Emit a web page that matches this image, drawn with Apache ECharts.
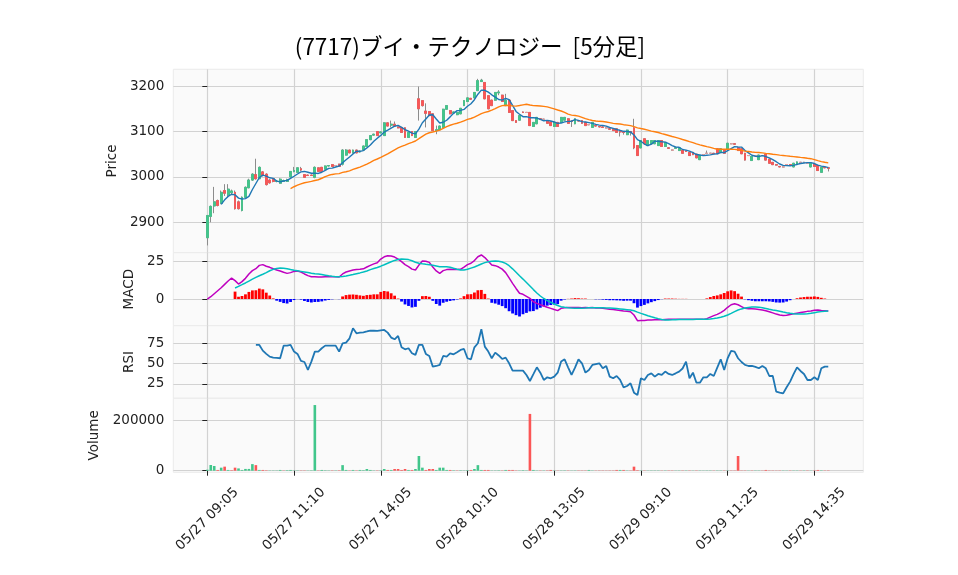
<!DOCTYPE html>
<html>
<head>
<meta charset="utf-8">
<script src="https://cdn.jsdelivr.net/npm/echarts@6/dist/echarts.min.js"></script>
<style>
html,body{margin:0;padding:0;background:#ffffff;}
#chart{width:958px;height:575px;}
</style>
</head>
<body>
<div id="chart"></div>
<script>
// ---- data (5-minute bars, index 0..179) ----
const xTickIndex = [0,25,50,75,100,125,150,175];
const xTickLabels = ['05/27 09:05','05/27 11:10','05/27 14:05','05/28 10:10','05/28 13:05','05/29 09:10','05/29 11:25','05/29 14:35'];

const opens = [2866,2913,2936,2948,2942,2970,2960,2965,2966,2945,
 2926,2955,2976,2993,3005,2996,3011,3006,2993,2996,
 2990,2986,2990,2990,3000,3012,3010,3018,3005,3004,
 3004,2999,3020,3021,3017,3024,3027,3025,3028,3028,
 3048,3059,3053,3059,3055,3059,3067,3082,3092,3100,
 3097,3091,3119,3114,3116,3110,3109,3108,3087,3100,
 3087,3172,3168,3145,3144,3139,3102,3104,3109,3149,
 3146,3141,3137,3139,3157,3166,3173,3174,3190,3210,
 3208,3179,3169,3169,3185,3180,3157,3169,3146,3124,
 3125,3143,3142,3142,3111,3117,3128,3127,3124,3121,
 3111,3120,3120,3125,3128,3123,3117,3124,3124,3120,
 3115,3109,3113,3111,3110,3108,3106,3105,3106,3101,
 3100,3093,3100,3108,3069,3064,3084,3069,3073,3073,
 3069,3080,3067,3064,3059,3063,3058,3059,3057,3054,
 3054,3050,3038,3049,3052,3052,3052,3062,3054,3059,
 3062,3073,3073,3064,3062,3052,3047,3036,3047,3038,
 3047,3050,3039,3032,3027,3023,3022,3027,3027,3022,
 3027,3032,3032,3030,3022,3028,3025,3010,3021,3020];

const closes = [2915,2935,2945,2937,2966,2964,2973,2969,2930,2930,
 2955,2977,2993,3006,2996,3021,3003,2983,2987,2990,
 2991,2995,2992,2994,3012,3014,3020,3015,2999,3003,
 3003,3021,3012,3012,3024,3025,3023,3025,3023,3059,
 3059,3053,3059,3053,3057,3068,3082,3091,3094,3091,
 3099,3119,3112,3116,3112,3108,3098,3087,3098,3091,
 3100,3150,3157,3140,3135,3102,3104,3112,3149,3157,
 3139,3143,3142,3151,3168,3174,3171,3186,3212,3213,
 3172,3150,3157,3186,3187,3166,3169,3142,3124,3120,
 3135,3142,3142,3113,3120,3131,3127,3127,3118,3113,
 3120,3111,3131,3131,3118,3122,3128,3123,3118,3113,
 3115,3120,3112,3110,3109,3108,3105,3102,3098,3099,
 3098,3103,3098,3064,3047,3080,3073,3080,3080,3080,
 3080,3067,3076,3063,3059,3064,3064,3052,3056,3047,
 3049,3042,3047,3049,3052,3052,3051,3051,3062,3052,
 3074,3073,3072,3058,3051,3037,3047,3045,3047,3048,
 3047,3037,3030,3027,3026,3022,3022,3027,3026,3030,
 3033,3032,3032,3030,3030,3023,3014,3021,3020,3019];

const lows = [2849,2900,2920,2935,2940,2958,2955,2962,2928,2928,
 2924,2953,2975,2991,2994,2995,3001,2981,2985,2988,
 2988,2985,2989,2989,2998,3010,3009,3013,2998,3002,
 3002,2997,3011,3011,3016,3023,3022,3024,3022,3025,
 3047,3052,3052,3052,3054,3058,3066,3081,3091,3090,
 3096,3090,3111,3109,3110,3107,3097,3086,3086,3090,
 3086,3124,3155,3109,3134,3101,3094,3103,3108,3148,
 3138,3140,3136,3138,3156,3165,3170,3173,3189,3209,
 3171,3149,3156,3168,3180,3165,3156,3141,3123,3119,
 3124,3141,3141,3112,3110,3116,3126,3126,3117,3112,
 3110,3110,3119,3124,3117,3110,3116,3122,3117,3112,
 3114,3108,3111,3109,3108,3107,3104,3101,3097,3089,
 3093,3092,3091,3061,3046,3063,3072,3068,3072,3072,
 3068,3066,3066,3062,3058,3062,3057,3051,3055,3046,
 3048,3041,3037,3048,3051,3051,3050,3050,3053,3051,
 3061,3072,3071,3057,3050,3036,3046,3035,3046,3037,
 3046,3036,3029,3026,3025,3021,3021,3026,3025,3021,
 3026,3031,3031,3029,3021,3022,3013,3009,3019,3012];

const highs = [2916,2937,2978,2950,2970,2984,2984,2972,2970,2948,
 2957,2979,2996,3008,3040,3023,3013,3008,2995,2997,
 2993,2997,2994,2996,3013,3022,3021,3022,3006,3005,
 3005,3023,3021,3022,3025,3026,3028,3026,3029,3061,
 3061,3060,3060,3060,3058,3069,3083,3092,3095,3101,
 3100,3120,3120,3124,3122,3111,3110,3109,3099,3101,
 3101,3199,3169,3162,3145,3140,3113,3113,3150,3158,
 3147,3144,3143,3152,3169,3175,3174,3187,3216,3216,
 3209,3180,3170,3187,3191,3181,3183,3170,3147,3125,
 3136,3144,3143,3143,3121,3132,3129,3128,3125,3122,
 3121,3121,3132,3132,3129,3125,3129,3125,3125,3121,
 3116,3121,3114,3112,3111,3109,3107,3106,3107,3104,
 3101,3104,3101,3128,3070,3081,3085,3081,3081,3081,
 3081,3081,3077,3065,3060,3065,3065,3060,3058,3055,
 3055,3051,3048,3050,3058,3053,3053,3063,3063,3060,
 3075,3074,3074,3065,3063,3053,3048,3046,3048,3049,
 3048,3051,3040,3033,3028,3024,3023,3028,3028,3031,
 3034,3033,3033,3031,3031,3029,3026,3022,3022,3022];

const volumes = [4000,22500,18500,3000,12000,16000,3000,2000,12000,9000,
 3000,7000,7000,26000,22000,3000,3000,1500,1000,1000,
 1000,3000,1000,2000,3000,1000,1200,1000,1000,800,
 1500,259000,1000,3000,1500,1000,1200,1000,1500,22000,
 3000,1000,3000,1000,3000,2000,6700,3000,1000,1000,
 1500,6700,3000,3000,6700,6700,3000,6700,3000,3000,
 6700,58000,12000,3000,6700,6700,3000,12000,12000,3000,
 3000,1500,1000,1500,1000,2000,3000,6700,22000,3000,
 3000,3000,1000,1000,1500,1000,3000,3000,3000,1000,
 1000,2000,1000,224000,3000,1000,1000,1000,1200,3000,
 1000,800,1000,1200,1000,800,1000,1000,1000,1000,
 3000,1000,800,1000,1000,800,1000,1000,3000,3000,
 3000,1000,1000,16000,2000,1000,1000,800,1000,1000,
 1000,800,1000,1000,1000,800,1000,1000,1000,1000,
 800,1000,1000,800,1000,1000,800,1000,1000,1000,
 1000,1000,1000,58000,1000,1000,800,1000,1000,1000,
 800,3000,1000,1000,800,1000,1000,800,1000,1000,
 1000,800,1000,1000,800,1000,3000,1500,1000,1200];

// moving averages as drawn (MA5 from bar 4, MA25 from bar 24)
const ma5Start = 4;
const ma5 = [2939.6,2949.4,2957.0,2961.8,2960.4,2953.2,2951.4,2952.2,2957.0,2972.2,
 2985.4,2998.6,3003.8,3001.8,2998.0,2996.8,2990.8,2989.2,2991.0,2992.4,
 2996.8,3001.4,3006.4,3011.0,3012.0,3010.2,3008.0,3008.2,3007.6,3010.2,
 3014.4,3018.8,3019.2,3021.8,3024.0,3031.0,3037.8,3043.8,3050.6,3056.6,
 3056.2,3058.0,3063.8,3070.2,3078.4,3085.2,3091.4,3098.8,3103.0,3107.4,
 3111.6,3113.4,3109.2,3104.2,3100.6,3096.4,3094.8,3105.2,3119.2,3127.6,
 3136.4,3136.8,3127.6,3118.6,3120.4,3124.8,3132.2,3140.0,3146.0,3146.4,
 3148.6,3155.6,3161.2,3170.0,3182.2,3191.2,3190.8,3186.6,3180.8,3175.6,
 3170.4,3169.2,3173.0,3170.0,3157.6,3144.2,3138.0,3132.6,3132.6,3130.4,
 3130.4,3129.6,3126.6,3123.6,3124.6,3123.2,3121.0,3117.8,3118.6,3121.2,
 3122.2,3122.6,3126.0,3124.4,3121.8,3120.8,3119.4,3117.8,3115.6,3114.0,
 3113.2,3111.8,3108.8,3106.8,3104.4,3102.4,3100.4,3100.0,3099.2,3092.4,
 3082.0,3078.4,3072.4,3068.8,3072.0,3078.6,3078.6,3077.4,3076.6,3073.2,
 3069.0,3065.8,3065.2,3060.4,3059.0,3056.6,3053.6,3049.2,3048.2,3046.8,
 3047.8,3048.4,3050.2,3051.0,3053.6,3053.6,3058.0,3062.4,3066.6,3065.8,
 3065.6,3058.2,3053.0,3047.6,3045.4,3044.8,3046.8,3044.8,3041.8,3037.8,
 3033.4,3028.4,3025.4,3024.8,3024.6,3025.4,3027.6,3029.6,3030.6,3031.4,
 3031.4,3029.4,3025.8,3023.6,3022.6,3020.4];
const ma25Start = 24;
const ma25 = [2974.4,2978.3,2981.7,2984.5,2987.0,2988.5,2990.0,2992.0,2993.7,2997.0,
 3000.7,3003.5,3005.4,3006.6,3007.3,3009.8,3011.4,3013.4,3016.4,3019.0,
 3021.7,3024.8,3028.3,3032.2,3036.2,3039.4,3042.8,3046.8,3050.6,3055.3,
 3059.7,3063.9,3067.0,3070.0,3073.4,3076.1,3079.1,3084.2,3089.4,3094.1,
 3097.2,3098.9,3100.9,3103.0,3106.9,3110.9,3113.7,3116.2,3118.2,3120.5,
 3123.6,3126.6,3128.6,3131.6,3135.4,3139.5,3142.0,3144.1,3146.9,3150.4,
 3154.3,3156.9,3157.7,3157.1,3156.4,3155.8,3157.2,3158.7,3159.9,3158.4,
 3157.0,3156.6,3156.0,3155.4,3154.1,3151.9,3149.7,3147.3,3145.1,3141.9,
 3138.1,3136.1,3135.2,3133.8,3131.1,3128.2,3126.1,3124.2,3123.0,3122.4,
 3122.0,3120.9,3119.4,3117.8,3117.2,3116.4,3115.0,3114.1,3112.9,3110.8,
 3108.1,3106.5,3105.0,3103.0,3100.9,3099.4,3097.7,3095.3,3093.4,3091.2,
 3089.0,3087.0,3084.8,3082.4,3080.2,3077.7,3075.4,3072.8,3070.6,3068.7,
 3066.8,3065.0,3062.9,3061.0,3060.9,3061.1,3060.9,3060.9,3060.6,3059.7,
 3058.5,3056.8,3056.0,3054.8,3054.1,3053.7,3053.0,3051.9,3051.0,3049.9,
 3049.0,3048.0,3047.2,3046.4,3045.4,3044.6,3043.8,3043.0,3042.3,3041.0,
 3040.1,3038.1,3035.7,3033.7,3032.2,3030.9];

// MACD panel
const macdStart = 0;
const macd = [0,1.5,3.5,5.5,7.5,9.7,11.9,13.9,12.2,9.9,
 11.5,13.7,16.6,18.8,20.1,22.3,22.8,21.7,21.0,20.1,
 19.2,18.6,17.7,17.0,17.5,18.3,18.6,17.9,16.6,15.5,
 14.8,14.8,14.6,14.6,14.8,14.8,14.8,14.8,14.6,16.6,
 17.9,18.6,19.2,19.6,19.7,20.0,21.2,22.3,23.3,24.0,
 26.5,28.0,28.7,28.5,27.8,26.5,24.8,22.8,21.5,19.8,
 19.2,22.5,25.2,25.0,24.3,21.2,18.6,17.0,18.8,19.5,
 19.7,19.5,19.5,19.7,21.2,22.8,23.7,25.5,28.0,29.2,
 27.5,25.0,22.5,22.1,21.2,19.8,17.5,14.0,10.4,7.0,
 3.8,3.1,1.8,0.4,-1.8,-2.9,-3.8,-4.6,-5.5,-6.2,
 -7.0,-7.7,-6.2,-5.8,-5.7,-5.7,-5.6,-5.7,-5.8,-5.7,
 -5.8,-5.7,-5.9,-6.0,-6.2,-6.5,-6.8,-7.0,-7.3,-7.6,
 -8.0,-8.2,-8.4,-10.6,-14.4,-14.2,-14.2,-14.0,-13.9,-13.8,
 -13.7,-13.7,-13.6,-13.5,-13.5,-13.5,-13.5,-13.5,-13.5,-13.5,
 -13.5,-13.5,-13.5,-13.5,-13.0,-12.0,-11.0,-10.2,-9.0,-7.5,
 -5.5,-3.8,-3.2,-3.8,-5.0,-6.2,-6.4,-6.5,-6.7,-6.9,
 -7.3,-7.8,-8.4,-9.2,-10.0,-10.6,-11.0,-10.8,-10.3,-9.8,
 -9.4,-9.0,-8.6,-8.2,-8.0,-7.4,-7.3,-7.6,-7.8,-8.0];
const signalStart = 8;
const signal = [7.30,8.40,9.51,10.64,11.88,13.13,14.29,15.44,16.43,17.49,
 18.72,19.68,20.29,20.51,20.39,20.04,19.51,19.01,18.67,18.32,
 17.93,17.52,17.10,16.78,16.51,16.19,15.80,15.38,15.03,14.83,
 14.73,14.93,15.28,15.72,16.23,16.77,17.31,17.89,18.60,19.46,
 20.20,20.88,21.76,22.73,23.74,24.72,25.59,26.18,26.46,26.40,
 26.12,25.38,24.40,23.71,23.34,23.03,22.79,22.39,21.92,21.42,
 21.31,21.34,21.03,20.40,19.79,19.28,19.28,19.74,20.49,21.23,
 22.18,23.23,24.12,24.73,25.04,25.14,24.97,24.53,23.64,22.09,
 20.00,17.72,15.37,13.21,10.96,8.64,6.24,3.98,2.00,0.33,
 -1.06,-2.17,-3.29,-4.34,-5.08,-5.52,-5.83,-6.04,-6.16,-6.18,
 -6.13,-5.99,-5.78,-5.72,-5.73,-5.77,-5.82,-5.92,-6.04,-6.18,
 -6.36,-6.56,-6.81,-7.07,-7.33,-7.82,-8.70,-9.52,-10.32,-11.07,
 -11.77,-12.41,-13.02,-13.61,-13.94,-13.84,-13.77,-13.69,-13.63,-13.59,
 -13.56,-13.53,-13.51,-13.50,-13.50,-13.50,-13.44,-13.28,-13.00,-12.63,
 -12.13,-11.47,-10.58,-9.50,-8.36,-7.33,-6.56,-6.02,-5.60,-5.32,
 -5.23,-5.39,-5.78,-6.29,-6.80,-7.27,-7.69,-8.16,-8.66,-9.11,
 -9.49,-9.77,-9.94,-10.01,-9.94,-9.74,-9.46,-9.06,-8.67,-8.37,
 -8.14,-7.96];
const histStart = 8;
const hist = [4.9,1.5,2.0,3.1,4.7,5.7,5.8,6.9,6.4,4.2,
 2.3,0.4,-1.1,-1.9,-2.7,-3.0,-2.0,-0.7,-0.1,-0.4,
 -1.3,-2.0,-2.3,-2.0,-1.9,-1.6,-1.0,-0.6,-0.2,0.0,
 -0.1,1.7,2.6,2.9,3.0,2.8,2.4,2.1,2.6,2.8,
 3.1,3.1,4.7,5.3,5.0,3.8,2.2,0.3,-1.7,-3.6,
 -4.6,-5.6,-5.2,-1.2,1.9,2.0,1.5,-1.2,-3.3,-4.4,
 -2.5,-1.8,-1.3,-0.9,-0.3,0.4,1.9,3.1,3.2,4.3,
 5.8,6.0,3.4,0.3,-2.5,-3.0,-3.8,-4.7,-6.1,-8.1,
 -9.6,-10.7,-11.6,-10.1,-9.2,-8.2,-8.0,-6.9,-5.8,-4.9,
 -4.4,-4.0,-3.7,-3.4,-1.1,-0.3,0.1,0.3,0.6,0.5,
 0.3,0.3,0.0,0.0,-0.2,-0.2,-0.4,-0.6,-0.8,-0.8,
 -0.9,-1.0,-1.2,-1.1,-1.1,-2.8,-5.7,-4.7,-3.9,-2.9,
 -2.1,-1.4,-0.7,-0.1,0.3,0.3,0.3,0.2,0.1,0.1,
 0.1,0.0,0.0,0.0,0.0,0.0,0.4,1.3,2.0,2.4,
 3.1,4.0,5.1,5.7,5.2,3.5,1.6,-0.2,-0.8,-1.2,
 -1.5,-1.5,-1.5,-1.5,-1.6,-1.9,-2.3,-2.4,-2.3,-1.7,
 -0.8,0.0,0.5,1.0,1.3,1.5,1.5,1.7,1.4,0.8,
 0.3,0.0];

// RSI panel
const rsiStart = 14;
const rsi = [73,73,66,62,58.6,57.4,57,56.6,72.1,72.1,
 73,64.8,61.9,53.3,52,42.2,52.5,64.8,64.8,68.9,
 72.1,72.1,72.1,72.1,64.8,75,75.8,81.1,93.4,87.3,
 88,88.5,89.5,90.6,90.4,90.2,90.8,91.4,88.1,82,
 79.9,84,70.1,67.6,68.9,62.7,60.7,73,73,61.9,
 59.4,46.3,47.1,48.4,59.4,58.6,62.7,61.5,64,66.8,
 68,56.6,55.3,70,75,92.2,70.9,64.8,56.6,63.5,
 60,55.7,57.4,50.4,41.4,41.4,41.4,41.4,36.1,28.7,
 37,45.5,38.9,29.9,33.2,32,34,38.9,52.5,55.3,
 45.5,36.1,45,55.3,50.4,38.9,42.2,48.4,49.5,50.4,
 44.3,47.1,34,32,34.8,30,20.9,22.5,25.8,14.3,
 11.5,32,29.9,36.1,38.1,34,37.3,36.1,40.2,37.3,
 36.1,38.1,40.2,44,52.5,32,38.9,26.6,26.6,33.2,
 33.2,37.3,34.8,45,55.3,42.2,56.6,65.6,64.8,56.6,
 52,48.4,47.1,47.1,46,44.3,47.1,44.3,34.8,34.8,
 15.6,14.5,13.5,21,27.9,37,45.5,41,37.3,29.9,
 29.9,33.2,29.9,44.3,46.3,46.3];

const priceTicks = [2900,3000,3100,3200];
const macdTicks = [0,25];
const rsiTicks = [25,50,75];
const volTicks = [0,200000];

// ---- styles ----
const UP = '#41c68b', DOWN = '#fb5656', WICK = '#8c8c8c';
const GRID_LINE = '#d2d2d2';
const FONT = 'DejaVu Sans';
const L = 173.3, R = 958 - 863.3;

function pts(arr, start) { return arr.map((v, k) => [start + k, v]); }

const wickData = opens.map((o, i) => [i, o, closes[i], lows[i], highs[i]]);
const bodyData = opens.map((o, i) => [i, o, closes[i], Math.min(o, closes[i]), Math.max(o, closes[i])]);
const volData = volumes.map((v, i) => {
  const ref = i === 0 ? opens[0] : closes[i - 1];
  return { value: [i, v], itemStyle: { color: closes[i] >= ref ? UP : DOWN } };
});
const histData = hist.map((v, k) => ({ value: [histStart + k, v], itemStyle: { color: v >= 0 ? '#ff0000' : '#0000ff' } }));

function xAxis(g, show) {
  return {
    type: 'value', gridIndex: g, min: -9.8, max: 189.1,
    axisLine: { show: false },
    axisTick: { show: show, customValues: xTickIndex, length: 5, lineStyle: { color: '#222', width: 1 } },
    axisLabel: {
      show: show, customValues: xTickIndex,
      formatter: v => xTickLabels[xTickIndex.indexOf(v)] || '',
      rotate: 45, align: 'center', verticalAlign: 'middle', margin: 47,
      fontSize: 13.5, color: '#222', fontFamily: FONT
    },
    splitLine: { show: true, lineStyle: { color: GRID_LINE, width: 1.2 } }
  };
}
function yAxis(g, min, max, ticks, name, gap) {
  return {
    type: 'value', gridIndex: g, min: min, max: max,
    axisLine: { show: false },
    axisTick: { show: true, customValues: ticks, length: 5, lineStyle: { color: '#222', width: 1 } },
    axisLabel: { customValues: ticks, formatter: v => String(v), margin: 9, fontSize: 13.5, color: '#222', fontFamily: FONT },
    splitLine: { show: true, lineStyle: { color: GRID_LINE, width: 1.2 } },
    name: name, nameLocation: 'middle', nameGap: gap, nameRotate: 90,
    nameTextStyle: { fontSize: 13.5, color: '#222', fontFamily: FONT }
  };
}
const gridBase = { left: L, right: R, show: true, backgroundColor: '#fafafa', borderColor: '#ebebeb', borderWidth: 1 };

const option = {
  animation: false,
  backgroundColor: '#ffffff',
  title: {
    text: '(7717)ブイ・テクノロジー  [5分足]',
    left: 465, top: 30, textAlign: 'center',
    textStyle: { fontFamily: 'Noto Sans CJK JP', fontSize: 22.5, fontWeight: 'normal', color: '#000' }
  },
  grid: [
    Object.assign({ top: 69.3, height: 183.4 }, gridBase),
    Object.assign({ top: 252.7, height: 73 }, gridBase),
    Object.assign({ top: 325.7, height: 72.6 }, gridBase),
    Object.assign({ top: 398.3, height: 74 }, gridBase)
  ],
  xAxis: [xAxis(0, false), xAxis(1, false), xAxis(2, false), xAxis(3, true)],
  yAxis: [
    yAxis(0, 2833, 3237, priceTicks, 'Price', 49),
    yAxis(1, -17.7, 30.7, macdTicks, 'MACD', 33),
    yAxis(2, 7.4, 96.6, rsiTicks, 'RSI', 33),
    yAxis(3, -6300, 285600, volTicks, 'Volume', 68)
  ],
  series: [
    { type: 'candlestick', xAxisIndex: 0, yAxisIndex: 0, data: wickData, encode: { x: 0, y: [1, 2, 3, 4] },
      barWidth: 2.4, itemStyle: { color: WICK, color0: WICK, borderColor: WICK, borderColor0: WICK, borderColorDoji: WICK, borderWidth: 1 } },
    { type: 'candlestick', xAxisIndex: 0, yAxisIndex: 0, data: bodyData, encode: { x: 0, y: [1, 2, 3, 4] },
      barWidth: 2.4, itemStyle: { color: UP, color0: DOWN, borderColor: UP, borderColor0: DOWN, borderColorDoji: '#f59a9a', borderWidth: 0.8 } },
    { type: 'line', xAxisIndex: 0, yAxisIndex: 0, data: pts(ma5, ma5Start), showSymbol: false, symbol: 'none',
      lineStyle: { color: '#1f77b4', width: 1.4 }, z: 5 },
    { type: 'line', xAxisIndex: 0, yAxisIndex: 0, data: pts(ma25, ma25Start), showSymbol: false, symbol: 'none',
      lineStyle: { color: '#ff7f0e', width: 1.4 }, z: 5 },
    { type: 'bar', xAxisIndex: 1, yAxisIndex: 1, data: histData, barWidth: 2.8 },
    { type: 'line', xAxisIndex: 1, yAxisIndex: 1, data: pts(macd, macdStart), symbol: 'none',
      lineStyle: { color: '#bf00bf', width: 1.5 }, z: 5 },
    { type: 'line', xAxisIndex: 1, yAxisIndex: 1, data: pts(signal, signalStart), symbol: 'none',
      lineStyle: { color: '#00bfbf', width: 1.5 }, z: 5 },
    { type: 'line', xAxisIndex: 2, yAxisIndex: 2, data: pts(rsi, rsiStart), symbol: 'none',
      lineStyle: { color: '#1f77b4', width: 1.8 } },
    { type: 'bar', xAxisIndex: 3, yAxisIndex: 3, data: volData, barWidth: 2.6 }
  ]
};

const chart = echarts.init(document.getElementById('chart'), null, { renderer: 'canvas' });
chart.setOption(option);
</script>
</body>
</html>
